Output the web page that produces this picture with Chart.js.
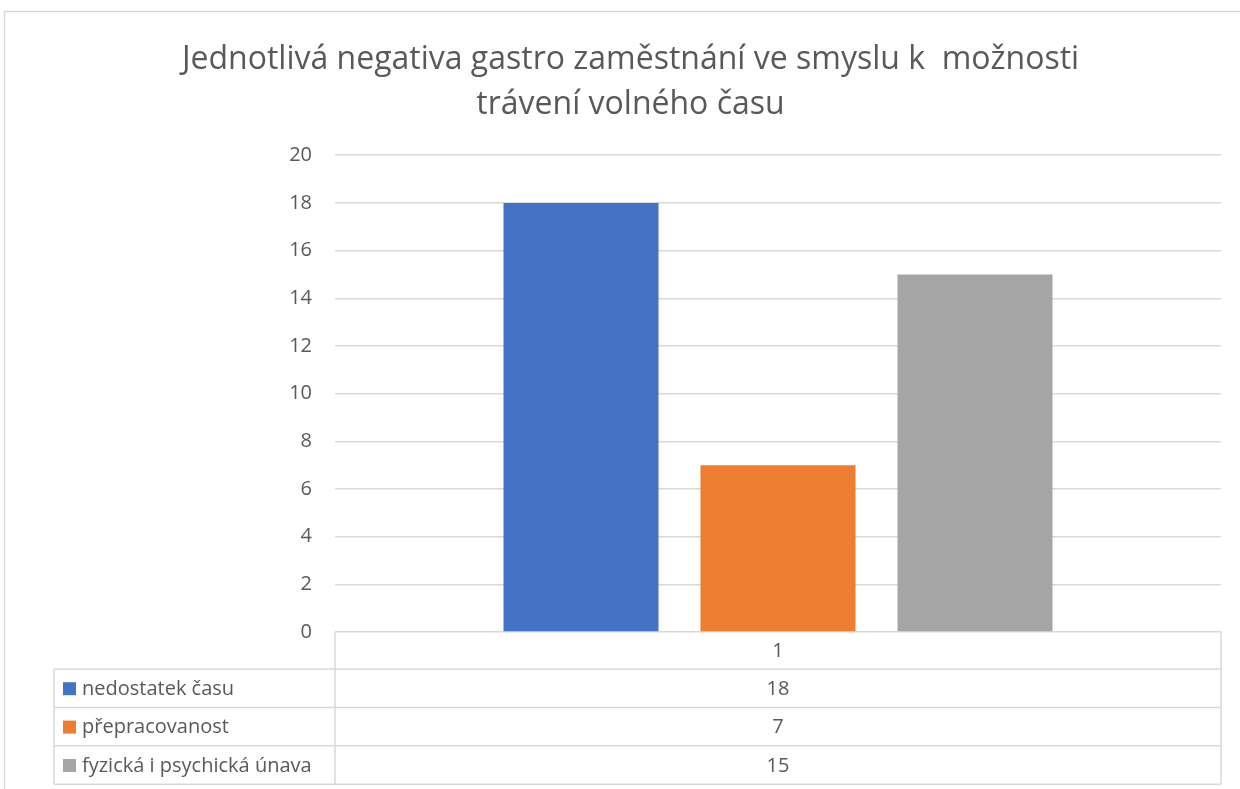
<!DOCTYPE html>
<html>
<head>
<meta charset="utf-8">
<script src="https://cdn.jsdelivr.net/npm/chart.js@4.4.0/dist/chart.umd.min.js"></script>
<style>
  html, body { margin: 0; padding: 0; background: #fff; }
  #wrap { width: 1240px; height: 789px; position: relative; }
</style>
</head>
<body>
<div id="wrap"><canvas id="chart"></canvas></div>
<script>
// data
const categories = ['1'];
const seriesNames = ['nedostatek času', 'přepracovanost', 'fyzická i psychická únava'];
const nedostatekCasu = [18];
const prepracovanost = [7];
const unava = [15];
const seriesColors = ['#4472C4', '#ED7D31', '#A5A5A5'];
const yMin = 0, yMax = 20, yStep = 2;

const titleLines = ['Jednotlivá negativa gastro zaměstnání ve smyslu k  možnosti', 'trávení volného času'];

const FONT = "'Open Sans', 'Noto Sans', sans-serif";
const GRID = '#d9d9d9';
const TEXT = '#595959';

// outer frame of the chart object
const framePlugin = {
    id: 'frame',
    beforeDraw(chart) {
        const c = chart.ctx;
        c.save();
        c.strokeStyle = GRID;
        c.lineWidth = 1.5;
        c.beginPath();
        c.moveTo(4.5, chart.height + 2);
        c.lineTo(4.5, 11.5);
        c.lineTo(chart.width + 2, 11.5);
        c.stroke();
        c.restore();
    }
};

// data table under the plot, like Excel's "data table with legend keys"
const dataTablePlugin = {
    id: 'dataTable',
    afterDraw(chart) {
        const c = chart.ctx;
        const area = chart.chartArea;
        const xs = chart.scales.x;
        const tableLeft = 54;
        const headTop = area.bottom;
        const headH = 37;
        const rowH = 38.4;
        const rows = chart.data.datasets.length;
        const bottom = headTop + headH + rows * rowH;

        c.save();
        c.strokeStyle = GRID;
        c.lineWidth = 1.5;
        c.beginPath();
        // column borders
        c.moveTo(area.left, headTop); c.lineTo(area.left, bottom);
        c.moveTo(area.right, headTop); c.lineTo(area.right, bottom);
        c.moveTo(tableLeft, headTop + headH); c.lineTo(tableLeft, bottom);
        // row borders
        for (let i = 0; i <= rows; i++) {
            const y = headTop + headH + i * rowH;
            c.moveTo(tableLeft, y); c.lineTo(area.right, y);
        }
        c.stroke();

        c.fillStyle = TEXT;
        c.font = '20px ' + FONT;
        c.textBaseline = 'middle';
        c.textAlign = 'center';
        categories.forEach((cat, j) => {
            const cx = xs.getPixelForValue(j);
            c.fillText(cat, cx, headTop + headH / 2 + 1);
            chart.data.datasets.forEach((ds, i) => {
                c.fillText(String(ds.data[j]), cx, headTop + headH + i * rowH + rowH / 2 + 1);
            });
        });

        c.textAlign = 'left';
        chart.data.datasets.forEach((ds, i) => {
            const cy = headTop + headH + i * rowH + rowH / 2;
            c.fillStyle = ds.backgroundColor;
            c.fillRect(63, cy - 6, 13, 13);
            c.fillStyle = TEXT;
            c.fillText(ds.label, 82, cy + 1);
        });
        c.restore();
    }
};

new Chart(document.getElementById('chart'), {
    type: 'bar',
    data: {
        labels: categories,
        datasets: [
            { label: seriesNames[0], data: nedostatekCasu, backgroundColor: seriesColors[0] },
            { label: seriesNames[1], data: prepracovanost, backgroundColor: seriesColors[1] },
            { label: seriesNames[2], data: unava, backgroundColor: seriesColors[2] }
        ]
    },
    options: {
        responsive: true,
        maintainAspectRatio: false,
        animation: false,
        categoryPercentage: 0.667,
        barPercentage: 0.787,
        layout: { padding: { left: 40, right: 19, top: 0, bottom: 157 } },
        plugins: {
            legend: { display: false },
            tooltip: { enabled: false },
            title: {
                display: true,
                text: titleLines,
                color: TEXT,
                font: { family: FONT, size: 32, weight: 'normal', lineHeight: 1.41 },
                padding: { top: 37, bottom: 28 }
            }
        },
        scales: {
            x: { display: false },
            y: {
                min: yMin,
                max: yMax,
                ticks: { stepSize: yStep, color: TEXT, font: { family: FONT, size: 20 }, padding: 23 },
                grid: { color: GRID, lineWidth: 1.5, drawTicks: false },
                border: { display: false },
                afterFit(scale) { scale.width = 295; }
            }
        }
    },
    plugins: [framePlugin, dataTablePlugin]
});
</script>
</body>
</html>
